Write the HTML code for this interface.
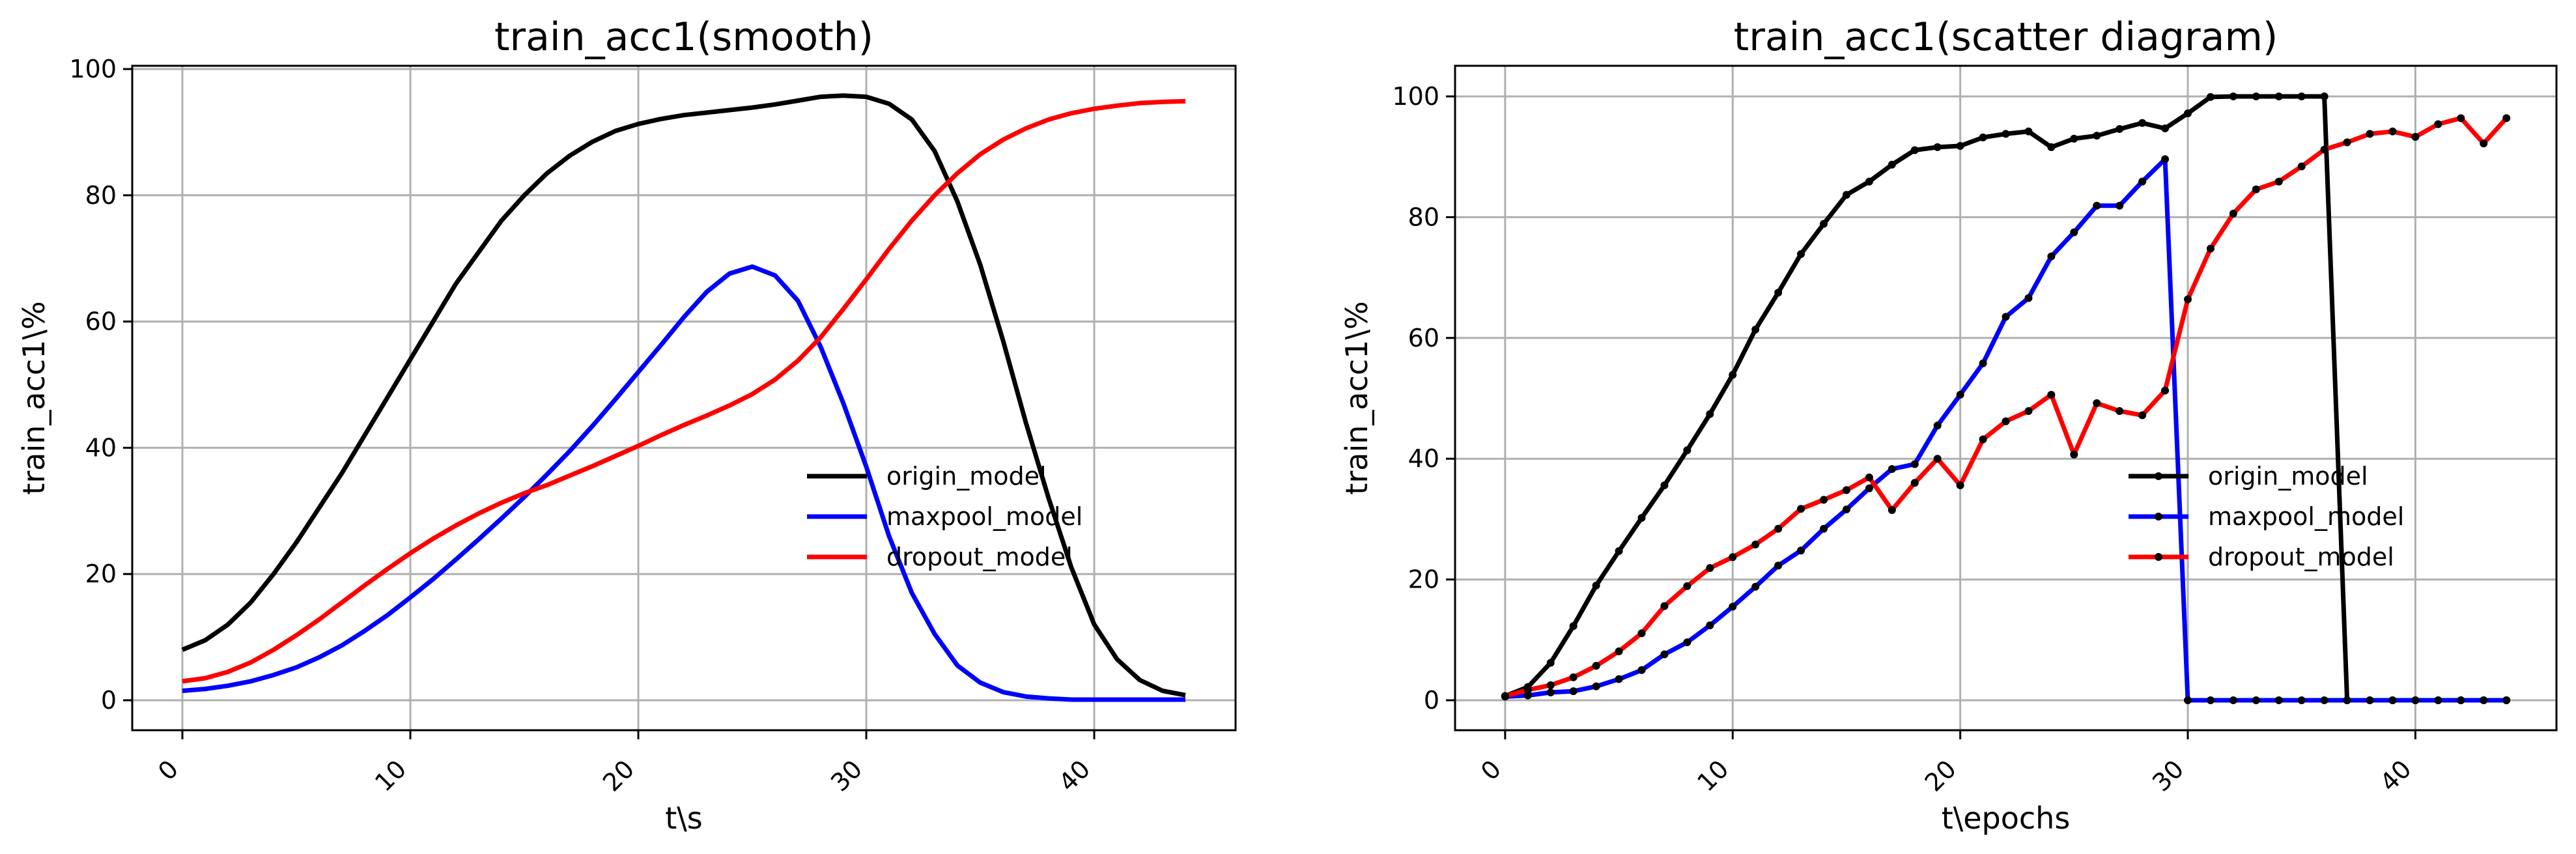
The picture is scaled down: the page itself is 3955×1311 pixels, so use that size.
<!DOCTYPE html>
<html><head><meta charset="utf-8"><style>
html,body{margin:0;padding:0;background:#fff;}
svg{display:block;font-family:"DejaVu Sans","Liberation Sans",sans-serif;}
</style></head><body>
<svg id="fig" width="3955" height="1311" viewBox="0 0 3955 1311" xmlns="http://www.w3.org/2000/svg">
<rect width="3955" height="1311" fill="#fff"/>
</svg>
<script>
const epochs = [0,1,2,3,4,5,6,7,8,9,10,11,12,13,14,15,16,17,18,19,20,21,22,23,24,25,26,27,28,29,30,31,32,33,34,35,36,37,38,39,40,41,42,43,44];
const smoothOrigin = [8,9.5,12,15.5,20,25,30.5,36,42,48,54,60,66,71,76,80,83.5,86.3,88.5,90.2,91.3,92.1,92.7,93.1,93.5,93.9,94.4,95,95.6,95.8,95.6,94.5,92,87,79,69,57,44,32,21,12,6.5,3.2,1.5,0.8];
const smoothMaxpool = [1.5,1.8,2.3,3,4,5.2,6.8,8.7,11,13.5,16.3,19.2,22.3,25.5,28.8,32.2,35.8,39.5,43.5,47.7,52,56.3,60.7,64.7,67.6,68.7,67.3,63.3,56,47,37,26,17,10.5,5.5,2.8,1.3,0.6,0.3,0.1,0.1,0.1,0.1,0.1,0.1];
const smoothDropout = [3,3.5,4.5,6,8,10.3,12.8,15.5,18.2,20.8,23.3,25.6,27.7,29.6,31.3,32.8,34.1,35.6,37.1,38.7,40.3,42,43.6,45.1,46.7,48.5,50.8,53.8,57.5,62,66.7,71.5,76,80,83.5,86.5,88.8,90.6,92,93,93.7,94.2,94.6,94.8,94.9];
const rawOrigin = [0.7,2.2,6.2,12.3,19.0,24.7,30.2,35.6,41.4,47.4,53.9,61.4,67.5,73.9,78.9,83.7,85.9,88.7,91.1,91.6,91.8,93.2,93.8,94.2,91.6,93.0,93.5,94.6,95.6,94.7,97.2,99.9,100,100,100,100,100,0,0,0,0,0,0,0,0];
const rawMaxpool = [0.6,0.8,1.3,1.5,2.3,3.5,5.0,7.6,9.6,12.4,15.5,18.8,22.3,24.8,28.4,31.6,35.1,38.3,39.1,45.5,50.6,55.8,63.5,66.6,73.5,77.5,81.9,81.9,85.9,89.6,0,0,0,0,0,0,0,0,0,0,0,0,0,0,0];
const rawDropout = [0.7,1.7,2.5,3.8,5.7,8.1,11.1,15.6,18.9,21.9,23.7,25.8,28.4,31.7,33.2,34.8,36.9,31.5,36.0,40.0,35.6,43.2,46.2,47.9,50.6,40.7,49.2,47.9,47.2,51.3,66.4,74.8,80.6,84.6,85.9,88.4,91.2,92.4,93.8,94.2,93.3,95.4,96.4,92.2,96.4];
const xTicks = [0,10,20,30,40];
const yTicks = [0,20,40,60,80,100];
const seriesNames = ["origin_model","maxpool_model","dropout_model"];
const seriesColors = ["#000000","#0000ff","#ff0000"];

const NS = "http://www.w3.org/2000/svg";
const svg = document.getElementById("fig");
function mk(tag, attrs, parent){
  const e = document.createElementNS(NS, tag);
  for (const k in attrs) e.setAttribute(k, attrs[k]);
  (parent||svg).appendChild(e);
  return e;
}

function drawPanel(cfg){
  const g = mk("g", {});
  
  
  const L = cfg.left, R = cfg.right, T = 101, B = 1121;
  const xMin = -2.2, xMax = 46.2;
  const sx = v => L + (v - xMin) / (xMax - xMin) * (R - L);
  const sy = v => cfg.y0 - v * cfg.yUnit;
  // grid
  xTicks.forEach(t => {
    const l = mk("line", {x1:sx(t), x2:sx(t), y1:T, y2:B, stroke:"#b0b0b0", "stroke-width":3}, g);
    
    
  });
  yTicks.forEach(t => {
    const l = mk("line", {x1:L, x2:R, y1:sy(t), y2:sy(t), stroke:"#b0b0b0", "stroke-width":3}, g);
    
    
  });
  // series
  const clip = mk("clipPath", {id: cfg.name + "-clip"}, g);
  mk("rect", {x:L, y:T, width:R-L, height:B-T}, clip);
  cfg.series.forEach((data, i) => {
    const pts = data.map((v, j) => sx(epochs[j]).toFixed(1) + "," + sy(v).toFixed(1)).join(" ");
    const pl = mk("polyline", {points:pts, fill:"none", stroke:seriesColors[i], "stroke-width":7, "stroke-linejoin":"round", "clip-path":"url(#"+cfg.name+"-clip)"}, g);
    
    
    if (cfg.markers) {
      data.forEach((v, j) => {
        const c = mk("circle", {cx:sx(epochs[j]), cy:sy(v), r:6, fill:"#000"}, g);
        
        
      });
    }
  });
  // frame
  const fr = mk("rect", {x:L, y:T, width:R-L, height:B-T, fill:"none", stroke:"#000", "stroke-width":3}, g);
  
  
  // ticks
  xTicks.forEach(t => {
    mk("line", {x1:sx(t), x2:sx(t), y1:B, y2:B+14, stroke:"#000", "stroke-width":3}, g);
    const tx = mk("text", {transform:"translate("+(sx(t)-4)+",1183) rotate(-45)", "text-anchor":"end", "font-size":38, fill:"#000"}, g);
    tx.textContent = t;
    
    
  });
  yTicks.forEach(t => {
    mk("line", {x1:L-14, x2:L, y1:sy(t), y2:sy(t), stroke:"#000", "stroke-width":3}, g);
    const tx = mk("text", {x:L-24, y:sy(t)+13, "text-anchor":"end", "font-size":38, fill:"#000"}, g);
    tx.textContent = t;
    
    
  });
  // title
  const ti = mk("text", {x:(L+R)/2, y:77, "text-anchor":"middle", "font-size":60, fill:"#000"}, g);
  ti.textContent = cfg.title;
  
  
  const xl = mk("text", {x:(L+R)/2, y:1272, "text-anchor":"middle", "font-size":46, fill:"#000"}, g);
  xl.textContent = cfg.xlabel;
  
  
  const yl = mk("text", {transform:"translate("+(L-135)+",611) rotate(-90)", "text-anchor":"middle", "font-size":46, fill:"#000"}, g);
  yl.textContent = "train_acc1\\%";
  
  
  // legend
  const lg = mk("g", {}, g);
  
  
  seriesNames.forEach((n, i) => {
    const y = 731 + i * 62;
    const e = mk("g", {}, lg);
    
    
    mk("line", {x1:cfg.legX, x2:cfg.legX+92, y1:y, y2:y, stroke:seriesColors[i], "stroke-width":7}, e);
    if (cfg.markers) mk("circle", {cx:cfg.legX+46, cy:y, r:6, fill:"#000"}, e);
    const t = mk("text", {x:cfg.legX+122, y:y+13, "font-size":38, fill:"#000"}, e);
    t.textContent = n;
  });
}

drawPanel({name:"smooth-chart", left:203, right:1897, y0:1075, yUnit:9.69, series:[smoothOrigin, smoothMaxpool, smoothDropout], markers:false, title:"train_acc1(smooth)", xlabel:"t\\s", legX:1239});
drawPanel({name:"scatter-chart", left:2234, right:3925, y0:1075, yUnit:9.27, series:[rawOrigin, rawMaxpool, rawDropout], markers:true, title:"train_acc1(scatter diagram)", xlabel:"t\\epochs", legX:3268});
</script>
</body></html>
